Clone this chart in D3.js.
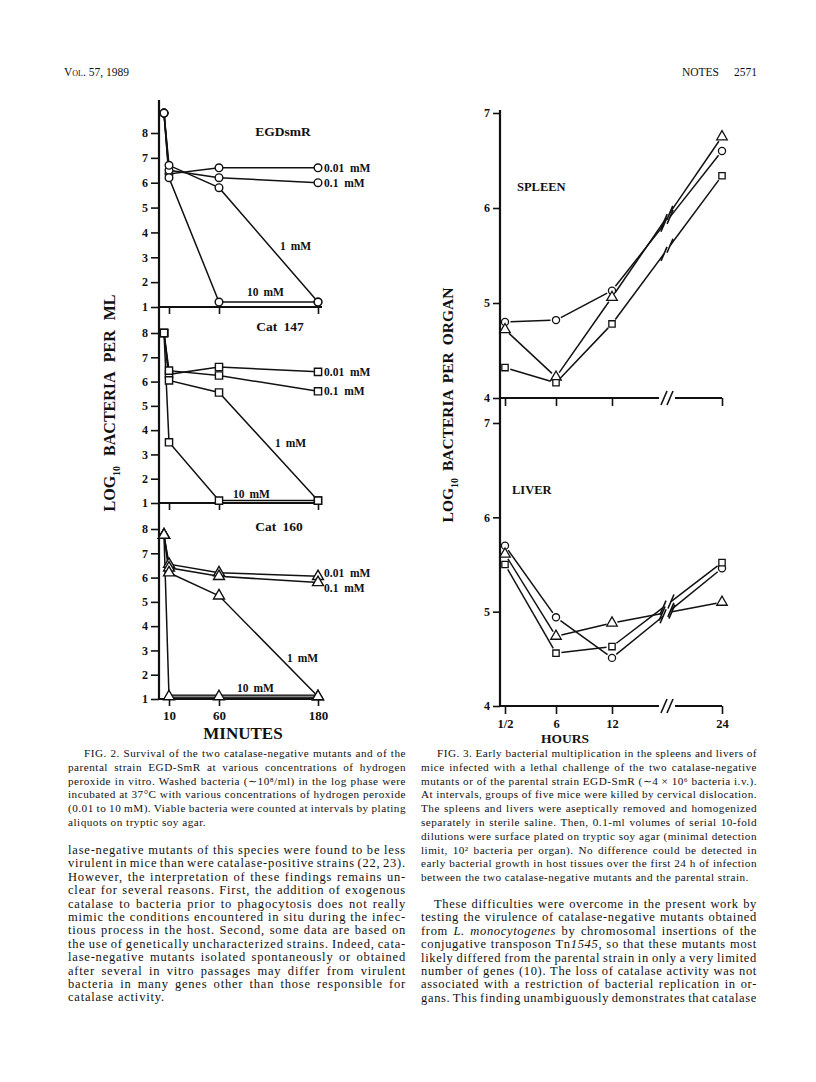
<!DOCTYPE html>
<html><head><meta charset="utf-8">
<script src="https://cdn.jsdelivr.net/npm/d3@7"></script>
<style>body{margin:0;background:#fff} svg{display:block}</style>
</head><body>
<script>
// ---------------- DATA ----------------
// Fig. 2 — survival in H2O2 (log10 bacteria per ml); first column = initial sample
const fig2Times = [5, 10, 60, 180];
const fig2TimeTicks = [10, 60, 180];
const fig2YTicks = [1, 2, 3, 4, 5, 6, 7, 8];
const concLabels = ["0.01 mM", "0.1 mM", "1 mM", "10 mM"];
const strainNames = ["EGDsmR", "Cat 147", "Cat 160"];
// EGDsmR (circles)
const egd_001 = [8.8, 6.35, 6.6, 6.6];
const egd_01  = [8.8, 6.5, 6.2, 6.0];
const egd_1   = [8.8, 6.7, 5.8, 1.2];
const egd_10  = [8.8, 6.2, 1.2, 1.2];
// Cat 147 (squares)
const c147_001 = [8.0, 6.3, 6.6, 6.4];
const c147_01  = [8.0, 6.45, 6.25, 5.6];
const c147_1   = [8.0, 6.05, 5.55, 1.1];
const c147_10  = [8.0, 3.5, 1.1, 1.1];
// Cat 160 (triangles)
const c160_001 = [7.75, 6.55, 6.2, 6.05];
const c160_01  = [7.75, 6.4, 6.05, 5.8];
const c160_1   = [7.75, 6.2, 5.25, 1.1];
const c160_10  = [7.75, 1.1, 1.1, 1.1];

// Fig. 3 — log10 bacteria per organ
const hours = [0.5, 6, 12, 24];
const hourLabels = ["1/2", "6", "12", "24"];
const fig3YTicks = [4, 5, 6, 7];
const spleenEGD    = [4.80, 4.82, 5.13, 6.60]; // circles
const spleenCat160 = [4.72, 4.22, 5.06, 6.75]; // triangles
const spleenCat147 = [4.32, 4.16, 4.78, 6.34]; // squares
const liverEGD     = [5.70, 4.94, 4.51, 5.46];
const liverCat160  = [5.61, 4.74, 4.88, 5.10];
const liverCat147  = [5.50, 4.56, 4.63, 5.52];

// ---------------- TEXT ----------------
const headerLeft = "Vol. 57, 1989";
const headerRight = ["NOTES", "2571"];
const fig2Caption = [
  "FIG. 2. Survival of the two catalase-negative mutants and of the",
  "parental strain EGD-SmR at various concentrations of hydrogen",
  "peroxide in vitro. Washed bacteria (∼10⁸/ml) in the log phase were",
  "incubated at 37°C with various concentrations of hydrogen peroxide",
  "(0.01 to 10 mM). Viable bacteria were counted at intervals by plating",
  "aliquots on tryptic soy agar."
];
const leftBody = [
  "lase-negative mutants of this species were found to be less",
  "virulent in mice than were catalase-positive strains (22, 23).",
  "However, the interpretation of these findings remains un-",
  "clear for several reasons. First, the addition of exogenous",
  "catalase to bacteria prior to phagocytosis does not really",
  "mimic the conditions encountered in situ during the infec-",
  "tious process in the host. Second, some data are based on",
  "the use of genetically uncharacterized strains. Indeed, cata-",
  "lase-negative mutants isolated spontaneously or obtained",
  "after several in vitro passages may differ from virulent",
  "bacteria in many genes other than those responsible for",
  "catalase activity."
];
const fig3Caption = [
  "FIG. 3. Early bacterial multiplication in the spleens and livers of",
  "mice infected with a lethal challenge of the two catalase-negative",
  "mutants or of the parental strain EGD-SmR (∼4 × 10⁶ bacteria i.v.).",
  "At intervals, groups of five mice were killed by cervical dislocation.",
  "The spleens and livers were aseptically removed and homogenized",
  "separately in sterile saline. Then, 0.1-ml volumes of serial 10-fold",
  "dilutions were surface plated on tryptic soy agar (minimal detection",
  "limit, 10² bacteria per organ). No difference could be detected in",
  "early bacterial growth in host tissues over the first 24 h of infection",
  "between the two catalase-negative mutants and the parental strain."
];
const rightBody = [
  "These difficulties were overcome in the present work by",
  "testing the virulence of catalase-negative mutants obtained",
  [{t:"from "},{t:"L. monocytogenes",i:1},{t:" by chromosomal insertions of the"}],
  [{t:"conjugative transposon Tn"},{t:"1545",i:1},{t:", so that these mutants most"}],
  "likely differed from the parental strain in only a very limited",
  "number of genes (10). The loss of catalase activity was not",
  "associated with a restriction of bacterial replication in or-",
  "gans. This finding unambiguously demonstrates that catalase"
];

// ---------------- DRAW ----------------
const W = 816, H = 1082;
const FONT = "'Liberation Serif','Times New Roman',serif";
const svg = d3.select("body").append("svg").attr("width", W).attr("height", H)
  .style("font-family", FONT).style("background", "#fff");
const INK = "#111";

// justified paragraph: fixed font size, shared tracking, per-line word spacing
function para(lines, x, width, y0, lh, size, indent, justifyLast, q) {
  const g = svg.append("g").attr("fill", INK).attr("font-size", size);
  const items = lines.map((ln, i) => {
    const segs = typeof ln === "string" ? [{t: ln}] : ln;
    const xi = x + (i === 0 ? indent : 0);
    const wi = width - (i === 0 ? indent : 0);
    const t = g.append("text").attr("x", xi).attr("y", y0 + i * lh);
    segs.forEach(s => t.append("tspan").text(s.t).attr("font-style", s.i ? "italic" : null));
    const full = segs.map(s => s.t).join("");
    const n = (full.match(/ /g) || []).length;
    const just = i < lines.length - 1 || justifyLast;
    return {t, wi, n, chars: full.length, just};
  });
  const per = items.filter(d => d.just)
    .map(d => (d.wi - d.t.node().getComputedTextLength()) / d.chars).sort(d3.ascending);
  const ls = Math.max(0, d3.quantileSorted(per, q));
  g.attr("letter-spacing", ls);
  items.forEach(d => {
    if (d.just && d.n > 0) {
      const len = d.t.node().getComputedTextLength();
      d.t.attr("word-spacing", (d.wi - len) / d.n);
    }
  });
}

// header
svg.append("text").attr("x", 64).attr("y", 76).attr("font-size", 11.5).attr("fill", INK)
  .style("font-variant", "small-caps").text(headerLeft);
svg.append("text").attr("x", 719).attr("y", 76).attr("font-size", 11.5).attr("fill", INK)
  .attr("text-anchor", "end").text(headerRight[0]);
svg.append("text").attr("x", 757).attr("y", 76).attr("font-size", 11.5).attr("fill", INK)
  .attr("text-anchor", "end").text(headerRight[1]);

// text blocks
para(fig2Caption, 68, 338, 757, 13.8, 11.2, 16, false, 0.25);
para(leftBody, 68, 338, 854, 13.4, 12.5, 0, false, 0.25);
para(fig3Caption, 421, 336, 757, 13.8, 11.2, 16, false, 0.25);
para(rightBody, 421, 336, 908, 13.4, 12.5, 13, true, 0.25);

function styleAxis(sel, fs) {
  sel.select(".domain").remove();
  sel.selectAll(".tick line").attr("stroke", INK).attr("stroke-width", 1.6);
  sel.selectAll(".tick text").attr("fill", INK).attr("font-size", fs)
    .attr("font-weight", "bold").attr("font-family", FONT);
}

// ---------- FIG. 2 ----------
const fig2X = d3.scaleLinear().domain([0, 10, 60, 180]).range([159, 169, 219, 318]);
const fig2 = svg.append("g");
const panels = [
  {series: [egd_001, egd_01, egd_1, egd_10], shape: d3.symbolCircle, size: 46, range: [307, 133],
   lab1: [280, 250], lab10: [247, 296], name: [283, 136], dys: [4, 4]},
  {series: [c147_001, c147_01, c147_1, c147_10], shape: d3.symbolSquare, size: 52, range: [503, 333],
   lab1: [275, 447], lab10: [233, 498], name: [280, 331], dys: [4, 4]},
  {series: [c160_001, c160_01, c160_1, c160_10], shape: d3.symbolTriangle, size: 52, range: [699, 529],
   lab1: [287, 662], lab10: [237, 692], name: [279, 531], dys: [1, 10]}
];
fig2.append("line").attr("x1", 159).attr("x2", 159).attr("y1", 100).attr("y2", 699)
  .attr("stroke", INK).attr("stroke-width", 2.2);

panels.forEach((p, pi) => {
  const y = d3.scaleLinear().domain([1, 8]).range(p.range);
  const g = fig2.append("g");
  g.append("g").attr("transform", "translate(159,0)")
    .call(d3.axisLeft(y).tickValues(fig2YTicks).tickSize(8).tickPadding(3).tickFormat(d3.format("d")))
    .call(s => styleAxis(s, 12));
  const xa = d3.axisBottom(fig2X).tickValues(fig2TimeTicks).tickSize(7).tickPadding(5);
  if (pi < 2) xa.tickFormat("");
  g.append("g").attr("transform", `translate(0,${y(1)})`).call(xa).call(s => styleAxis(s, 13));
  g.append("line").attr("x1", 159).attr("x2", fig2X(180) + 4).attr("y1", y(1)).attr("y2", y(1))
    .attr("stroke", INK).attr("stroke-width", 2.2);

  const line = d3.line().x((d, i) => fig2X(fig2Times[i])).y(d => y(d));
  p.series.forEach((s, si) => {
    if (pi === 2 && si === 3) {
      g.append("path").datum(s.slice(0, 2)).attr("d", line).attr("fill", "none")
        .attr("stroke", INK).attr("stroke-width", 1.5);
      const seg = d3.line().x((d, i) => fig2X(fig2Times[i + 1])).y(d => y(d));
      g.append("path").datum(s.slice(1)).attr("d", seg).attr("fill", "none")
        .attr("stroke", INK).attr("stroke-width", 4.2);
      g.append("path").datum(s.slice(1)).attr("d", seg).attr("fill", "none")
        .attr("stroke", "#8a8a8a").attr("stroke-width", 1.6);
    } else {
      g.append("path").datum(s).attr("d", line).attr("fill", "none")
        .attr("stroke", INK).attr("stroke-width", 1.5);
    }
  });
  p.series.forEach(s => {
    s.forEach((v, i) => {
      g.append("path").attr("d", d3.symbol().type(p.shape).size(p.size)())
        .attr("transform", `translate(${fig2X(fig2Times[i])},${y(v)})`)
        .attr("fill", "#fff").attr("stroke", INK).attr("stroke-width", 1.4);
    });
  });
  const tf = {fill: INK, "font-weight": "bold", "font-size": 11.5};
  [0, 1].forEach(si => {
    const v = p.series[si][3];
    const t = g.append("text").attr("x", fig2X(180) + 6).attr("y", y(v) + p.dys[si])
      .attr("word-spacing", 3).text(concLabels[si]);
    Object.entries(tf).forEach(([k, val]) => t.attr(k, val));
  });
  const t1 = g.append("text").attr("x", p.lab1[0]).attr("y", p.lab1[1]).attr("word-spacing", 2).text(concLabels[2]);
  const t2 = g.append("text").attr("x", p.lab10[0]).attr("y", p.lab10[1]).attr("word-spacing", 2).text(concLabels[3]);
  [t1, t2].forEach(t => Object.entries(tf).forEach(([k, val]) => t.attr(k, val)));
  g.append("text").attr("x", p.name[0]).attr("y", p.name[1]).attr("text-anchor", "middle")
    .attr("font-weight", "bold").attr("font-size", 13.5).attr("fill", INK).attr("word-spacing", 3)
    .text(strainNames[pi]);
});
fig2.append("text").attr("x", 243).attr("y", 739).attr("text-anchor", "middle")
  .attr("font-weight", "bold").attr("font-size", 17).attr("fill", INK).text("MINUTES");
{
  const t = fig2.append("text").attr("transform", "translate(115,403) rotate(-90)")
    .attr("text-anchor", "middle").attr("font-weight", "bold").attr("font-size", 16)
    .attr("fill", INK).attr("word-spacing", 6);
  t.append("tspan").text("LOG");
  t.append("tspan").attr("font-size", 10).attr("dy", 5).text("10");
  t.append("tspan").attr("dy", -5).text(" BACTERIA PER ML");
}

// ---------- FIG. 3 ----------
const fig3X = d3.scaleLinear().domain([0.5, 6, 12, 24]).range([505, 556, 612, 722]);
const breakHour = 18;
const fig3 = svg.append("g");
fig3.append("line").attr("x1", 500).attr("x2", 500).attr("y1", 110).attr("y2", 706)
  .attr("stroke", INK).attr("stroke-width", 2.2);

function slash(g, x, y) {
  g.append("line").attr("x1", x - 3).attr("y1", y + 7).attr("x2", x + 3).attr("y2", y - 7)
    .attr("stroke", INK).attr("stroke-width", 1.6);
}

const organs = [
  {name: "SPLEEN", range: [398, 113], label: [517, 191], series: [
    {v: spleenEGD, shape: d3.symbolCircle, size: 40},
    {v: spleenCat160, shape: d3.symbolTriangle, size: 48},
    {v: spleenCat147, shape: d3.symbolSquare, size: 40}]},
  {name: "LIVER", range: [706, 423], label: [512, 494], series: [
    {v: liverEGD, shape: d3.symbolCircle, size: 40},
    {v: liverCat160, shape: d3.symbolTriangle, size: 48},
    {v: liverCat147, shape: d3.symbolSquare, size: 40}]}
];
organs.forEach((o, oi) => {
  const y = d3.scaleLinear().domain([4, 7]).range(o.range);
  const g = fig3.append("g");
  g.append("g").attr("transform", "translate(500,0)")
    .call(d3.axisLeft(y).tickValues(fig3YTicks).tickSize(7).tickPadding(3).tickFormat(d3.format("d")))
    .call(s => styleAxis(s, 12));
  const xa = d3.axisBottom(fig3X).tickValues(hours).tickSize(8).tickPadding(5)
    .tickFormat((d, i) => hourLabels[i]);
  if (oi === 0) xa.tickFormat("");
  g.append("g").attr("transform", `translate(0,${y(4)})`).call(xa).call(s => styleAxis(s, 12.5));
  const bx = fig3X(breakHour);
  g.append("line").attr("x1", 500).attr("x2", bx - 8).attr("y1", y(4)).attr("y2", y(4))
    .attr("stroke", INK).attr("stroke-width", 2.2);
  g.append("line").attr("x1", bx + 8).attr("x2", fig3X(24)).attr("y1", y(4)).attr("y2", y(4))
    .attr("stroke", INK).attr("stroke-width", 2.2);
  slash(g, bx - 3, y(4));
  slash(g, bx + 3, y(4));

  o.series.forEach(s => {
    const pts = hours.map((h, i) => [fig3X(h), y(s.v[i])]);
    for (let i = 0; i < 3; i++) {
      const a = pts[i], b = pts[i + 1];
      const dx = b[0] - a[0], dy = b[1] - a[1], L = Math.hypot(dx, dy);
      const ux = dx / L, uy = dy / L, tr = 5.5;
      const A = [a[0] + ux * tr, a[1] + uy * tr], B = [b[0] - ux * tr, b[1] - uy * tr];
      if (i < 2) {
        g.append("path").attr("d", d3.line()([A, B])).attr("stroke", INK).attr("stroke-width", 1.5).attr("fill", "none");
      } else {
        const t = (bx - a[0]) / dx;
        const P = [a[0] + dx * t, a[1] + dy * t], gap = 5;
        const P1 = [P[0] - ux * gap, P[1] - uy * gap], P2 = [P[0] + ux * gap, P[1] + uy * gap];
        g.append("path").attr("d", d3.line()([A, P1])).attr("stroke", INK).attr("stroke-width", 1.5).attr("fill", "none");
        g.append("path").attr("d", d3.line()([P2, B])).attr("stroke", INK).attr("stroke-width", 1.5).attr("fill", "none");
        slash(g, P1[0], P1[1]);
        slash(g, P2[0], P2[1]);
      }
    }
    pts.forEach(pt => {
      g.append("path").attr("d", d3.symbol().type(s.shape).size(s.size)())
        .attr("transform", `translate(${pt[0]},${pt[1]})`)
        .attr("fill", "#fff").attr("stroke", INK).attr("stroke-width", 1.3);
    });
  });
  g.append("text").attr("x", o.label[0]).attr("y", o.label[1]).attr("font-weight", "bold")
    .attr("font-size", 12.5).attr("fill", INK).text(o.name);
});
fig3.append("text").attr("x", 565).attr("y", 743).attr("text-anchor", "middle")
  .attr("font-weight", "bold").attr("font-size", 13.5).attr("fill", INK).text("HOURS");
{
  const t = fig3.append("text").attr("transform", "translate(453,405) rotate(-90)")
    .attr("text-anchor", "middle").attr("font-weight", "bold").attr("font-size", 15.5)
    .attr("fill", INK).attr("word-spacing", 3);
  t.append("tspan").text("LOG");
  t.append("tspan").attr("font-size", 10).attr("dy", 5).text("10");
  t.append("tspan").attr("dy", -5).text(" BACTERIA PER ORGAN");
}
</script>
</body></html>
